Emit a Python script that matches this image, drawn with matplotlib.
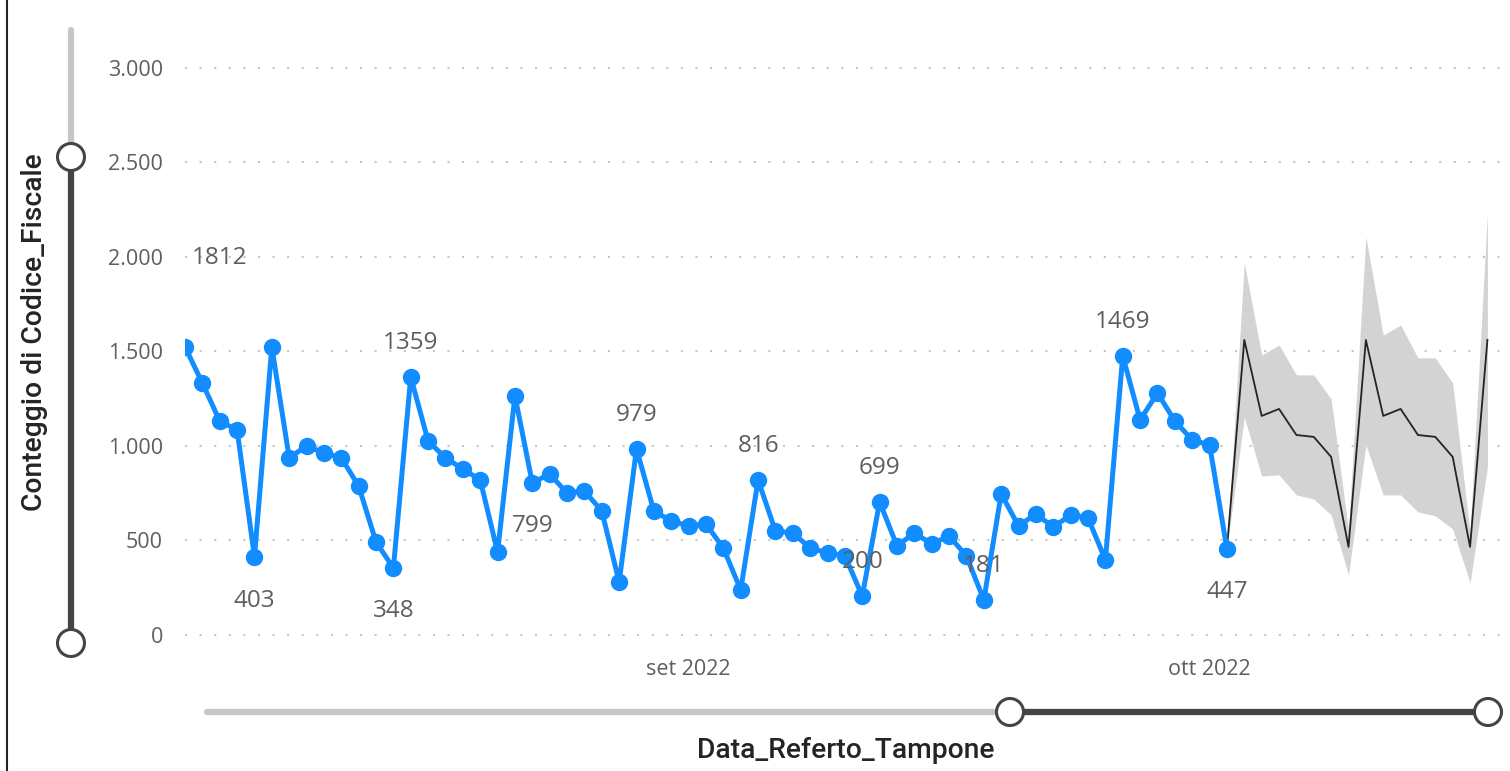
import pandas as pd
import matplotlib.pyplot as plt
from matplotlib.patches import Circle

# daily counts, 3 Aug 2022 -> 2 Oct 2022
start = '2022-08-03'
counts = [1524, 1333, 1132, 1085, 413, 1524, 937, 1000, 963, 937,
          788, 492, 354, 1365, 1026, 937, 878, 820, 439, 1265,
          804, 852, 751, 762, 656, 280, 984, 656, 603, 577,
          587, 460, 238, 820, 550, 540, 460, 434, 418, 206,
          704, 471, 540, 481, 524, 418, 185, 746, 577, 640,
          571, 635, 619, 397, 1476, 1138, 1280, 1132, 1032, 1005,
          455]

# forecast, 3 Oct -> 17 Oct
fc_mid = [1561, 1159, 1196, 1058, 1048, 942, 466, 1561, 1159, 1196, 1058, 1048, 942, 466, 1561]
fc_hi = [1968, 1481, 1534, 1376, 1376, 1249, 556, 2106, 1587, 1640, 1466, 1466, 1333, 540, 2233]
fc_lo = [1153, 841, 847, 741, 719, 635, 317, 1005, 741, 741, 651, 630, 561, 275, 889]

# data labels: day index, value, above/below
lab_idx = [2, 4, 12, 13, 20, 26, 33, 39, 40, 46, 54, 60]
lab_val = [1812, 403, 348, 1359, 799, 979, 816, 200, 699, 181, 1469, 447]
lab_pos = ['a', 'b', 'b', 'a', 'b', 'a', 'a', 'a', 'a', 'a', 'a', 'b']

yticks = [0, 500, 1000, 1500, 2000, 2500, 3000]
ytick_labels = ['0', '500', '1.000', '1.500', '2.000', '2.500', '3.000']
xticks = ['2022-09-01', '2022-10-01']
xtick_labels = ['set 2022', 'ott 2022']

dates = pd.date_range(start, periods=len(counts))
fc_dates = pd.date_range(dates[-1], periods=len(fc_mid) + 1)

W, H = 1510, 771
fig = plt.figure(figsize=(W / 100, H / 100), dpi=100)
ax = fig.add_axes([185 / W, 1 - 655 / H, (W - 185) / W, 615 / H])

grey = '#605E5C'
blue = '#118DFF'

ax.fill_between(fc_dates, [counts[-1]] + fc_lo, [counts[-1]] + fc_hi,
                color='#D3D3D3', lw=0, zorder=1)
ax.plot(fc_dates, [counts[-1]] + fc_mid, color='#252423', lw=1.3, zorder=2)
ax.plot(dates, counts, color=blue, lw=3.6, marker='o', ms=11.5, zorder=3)

for i, v, p in zip(lab_idx, lab_val, lab_pos):
    dy = 35 if p == 'a' else -42
    ax.annotate(str(v), (dates[i], v), xytext=(0, dy), textcoords='offset pixels',
                ha='center', va='center', fontsize=17.5, color=grey,
                family='Open Sans', zorder=4)

ax.set_xlim(dates[0], dates[0] + pd.Timedelta(days=76.3))
ax.set_ylim(-106, 3148)
ax.set_yticks(yticks)
ax.set_yticklabels(ytick_labels)
ax.set_xticks(pd.to_datetime(xticks))
ax.set_xticklabels(xtick_labels)
ax.tick_params(length=0, labelsize=15.5, labelcolor=grey)
ax.tick_params(axis='y', pad=16)
ax.tick_params(axis='x', pad=3)
for t in ax.get_xticklabels() + ax.get_yticklabels():
    t.set_family('Open Sans')
ax.grid(axis='y', color='#C8C6C4', lw=1.5, ls=(0, (1, 6)))
ax.set_axisbelow(True)
for s in ax.spines.values():
    s.set_visible(False)

# axis titles
fig.text(35 / W, 1 - 332 / H, 'Conteggio di Codice_Fiscale', rotation=90,
         ha='center', va='center', fontsize=20.3, color='#252423',
         family='Roboto', fontweight='medium')
fig.text(846 / W, 1 - 750 / H, 'Data_Referto_Tampone', ha='center', va='center',
         fontsize=20.3, color='#252423', family='Roboto', fontweight='medium')

# zoom sliders and left border
ov = fig.add_axes([0, 0, 1, 1], zorder=5)
ov.set_xlim(0, W)
ov.set_ylim(H, 0)
ov.axis('off')
ov.plot([7, 7], [0, H], color='#222222', lw=1.5)
ov.plot([71, 71], [30, 157], color='#C8C6C4', lw=4.5, solid_capstyle='round')
ov.plot([71, 71], [157, 643], color='#444444', lw=4.5)
ov.plot([207, 1010], [712, 712], color='#C8C6C4', lw=4.5, solid_capstyle='round')
ov.plot([1010, 1488], [712, 712], color='#444444', lw=4.5)
for cx, cy in [(71, 157), (71, 643), (1010, 712), (1488, 712)]:
    ov.add_patch(Circle((cx, cy), 13.5, facecolor='white', edgecolor='#444444',
                        lw=2.2, zorder=4))

fig.savefig('out.png', dpi=100)
